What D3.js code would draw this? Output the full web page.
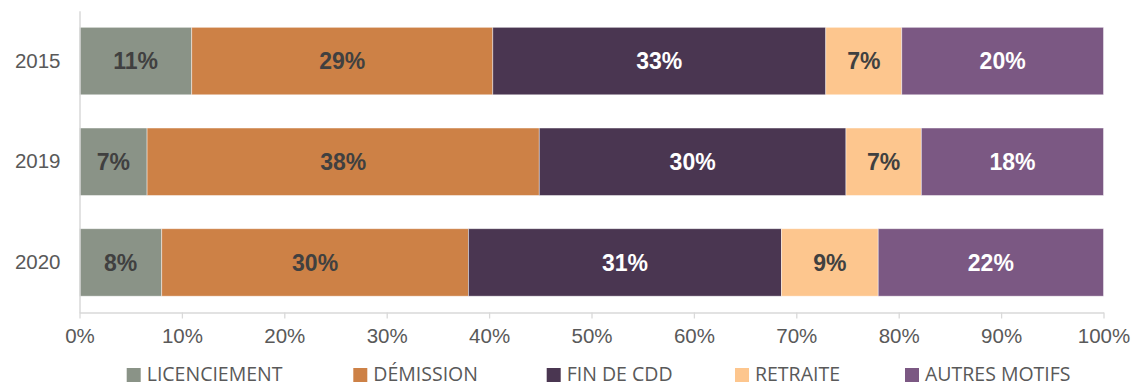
<!DOCTYPE html>
<html>
<head>
<meta charset="utf-8">
<script src="https://cdn.jsdelivr.net/npm/d3@7"></script>
<style>
  html, body { margin: 0; padding: 0; background: #fff; }
  svg { display: block; }
</style>
</head>
<body>
<svg id="chart" width="1134" height="387"></svg>
<script>
// Years shown on the vertical axis
const years = ["2015", "2019", "2020"];
// Exit reasons, in stacking order
const reasons = ["LICENCIEMENT", "DÉMISSION", "FIN DE CDD", "RETRAITE", "AUTRES MOTIFS"];
// Share of each reason per year (%)
const licenciement = [10.96, 6.6, 8.03];
const demission    = [29.40, 38.3, 29.95];
const finCdd       = [32.52, 29.95, 30.57];
const retraite     = [7.42, 7.36, 9.45];
const autresMotifs = [19.70, 17.79, 22.00];
// Axis ticks
const xTicks = [0, 10, 20, 30, 40, 50, 60, 70, 80, 90, 100];

const seriesValues = [licenciement, demission, finCdd, retraite, autresMotifs];
const colors = ["#8A9387", "#CD8146", "#4A3651", "#FDC68E", "#7B5883"];
const labelColors = ["#404040", "#404040", "#ffffff", "#404040", "#ffffff"];

const rows = years.map((y, i) => {
  const r = { year: y };
  reasons.forEach((k, j) => { r[k] = seriesValues[j][i]; });
  return r;
});

const svg = d3.select("#chart");
const left = 79.5, right = 1103.5;

const x = d3.scaleLinear().domain([0, 100]).range([left, right]);
const y = d3.scaleBand().domain(years).range([10.7, 312.8])
  .paddingInner(0.33).paddingOuter(0.165);

const stack = d3.stack().keys(reasons);
const layers = stack(rows);

// Bars
const g = svg.append("g");
layers.forEach((layer, j) => {
  g.selectAll(null).data(layer).enter().append("rect")
    .attr("x", d => x(d[0]))
    .attr("y", d => y(d.data.year))
    .attr("width", d => x(d[1]) - x(d[0]))
    .attr("height", y.bandwidth())
    .attr("fill", colors[j])
    .attr("stroke", "#ffffff")
    .attr("stroke-opacity", 0.55)
    .attr("stroke-width", 0.8);
});

// Value labels
layers.forEach((layer, j) => {
  g.selectAll(null).data(layer).enter().append("text")
    .attr("x", d => (x(d[0]) + x(d[1])) / 2)
    .attr("y", d => y(d.data.year) + y.bandwidth() / 2)
    .attr("dy", "0.36em")
    .attr("text-anchor", "middle")
    .attr("font-family", "'Liberation Sans', Arial, sans-serif")
    .attr("font-weight", "bold")
    .attr("font-size", "23px")
    .attr("fill", labelColors[j])
    .text(d => Math.round(d.data[reasons[j]]) + "%");
});

// Horizontal axis
const xAxis = d3.axisBottom(x).tickValues(xTicks).tickFormat(d => d + "%")
  .tickSize(6).tickSizeOuter(0).tickPadding(10);
const gx = svg.append("g").attr("transform", "translate(0,312.5)").call(xAxis);
gx.select(".domain").attr("stroke", "#d9d9d9").attr("stroke-width", 1.3);
gx.selectAll(".tick line").attr("stroke", "#d9d9d9").attr("stroke-width", 1.3);
gx.selectAll(".tick text")
  .attr("font-family", "'Liberation Sans', Arial, sans-serif")
  .attr("font-size", "20.5px")
  .attr("fill", "#595959");

// Vertical axis
const yAxis = d3.axisLeft(y).tickSize(0).tickPadding(19);
const gy = svg.append("g").attr("transform", `translate(${left},0)`).call(yAxis);
gy.select(".domain").attr("stroke", "#d9d9d9").attr("stroke-width", 1.5);
gy.selectAll(".tick text")
  .attr("font-family", "'Liberation Sans', Arial, sans-serif")
  .attr("font-size", "20.5px")
  .attr("fill", "#595959");

// Legend
const legendX = [126.7, 353.3, 546.7, 735, 905];
const legend = svg.append("g");
reasons.forEach((name, j) => {
  const item = legend.append("g").attr("transform", `translate(${legendX[j]},368)`);
  item.append("rect").attr("width", 14).attr("height", 14).attr("fill", colors[j]);
  item.append("text")
    .attr("x", 20).attr("y", 13)
    .attr("font-family", "'Open Sans', 'Noto Sans', sans-serif")
    .attr("font-size", "19.5px")
    .attr("fill", "#595959")
    .text(name);
});
</script>
</body>
</html>
